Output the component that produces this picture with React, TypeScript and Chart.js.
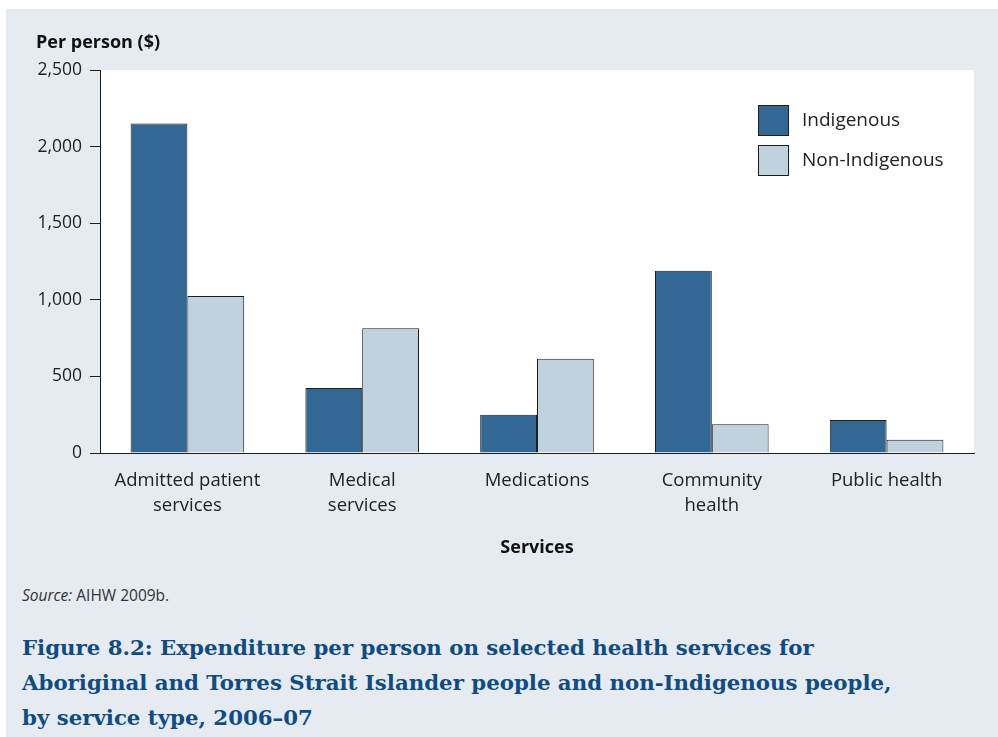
import React, { useEffect, useRef } from "react";
import { Chart, registerables } from "chart.js";

Chart.register(...registerables);

const categories: (string | string[])[] = [
  ["Admitted patient", "services"],
  ["Medical", "services"],
  "Medications",
  ["Community", "health"],
  "Public health",
];
const seriesNames = ["Indigenous", "Non-Indigenous"];
const indigenous = [2150, 425, 250, 1190, 215];
const nonIndigenous = [1025, 815, 615, 187, 87];
const yTicks = [0, 500, 1000, 1500, 2000, 2500];

const C_IND = "#336895";
const C_NON = "#c1d2df";
const C_BORDER = "#1e1e1e";
const C_BG = "#e6eaf1";
const FONT = "'Open Sans', sans-serif";

const legendPlugin = {
  id: "insideLegend",
  afterDraw(chart: any) {
    const { ctx, chartArea } = chart;
    const x0 = chartArea.right - 216;
    let y0 = chartArea.top + 35;
    ctx.save();
    chart.data.datasets.forEach((ds: any) => {
      ctx.fillStyle = ds.backgroundColor;
      ctx.fillRect(x0, y0, 30, 30);
      ctx.strokeStyle = C_BORDER;
      ctx.lineWidth = 1;
      ctx.strokeRect(x0 + 0.5, y0 + 0.5, 30, 30);
      ctx.fillStyle = "#222";
      ctx.font = "19px " + FONT;
      ctx.textBaseline = "middle";
      ctx.textAlign = "left";
      ctx.fillText(ds.label, x0 + 44, y0 + 16);
      y0 += 40;
    });
    ctx.restore();
  },
};

export default function App() {
  const ref = useRef<HTMLCanvasElement | null>(null);

  useEffect(() => {
    if (!ref.current) return;
    const chart = new Chart(ref.current, {
      type: "bar",
      data: {
        labels: categories,
        datasets: [
          {
            label: seriesNames[0],
            data: indigenous,
            backgroundColor: C_IND,
            borderColor: C_BORDER,
            borderWidth: 1,
            categoryPercentage: 0.65,
            barPercentage: 1,
          },
          {
            label: seriesNames[1],
            data: nonIndigenous,
            backgroundColor: C_NON,
            borderColor: C_BORDER,
            borderWidth: 1,
            categoryPercentage: 0.65,
            barPercentage: 1,
          },
        ],
      },
      options: {
        animation: false,
        responsive: false,
        maintainAspectRatio: false,
        layout: { padding: { left: 0, right: 24, top: 70, bottom: 0 } },
        plugins: {
          legend: { display: false },
          tooltip: { enabled: false },
        },
        scales: {
          x: {
            grid: { display: false },
            border: { display: true, color: C_BORDER, width: 1 },
            ticks: {
              color: "#222",
              font: { family: FONT, size: 18.5, lineHeight: 1.35 },
              padding: 7,
              maxRotation: 0,
              autoSkip: false,
            },
            title: {
              display: true,
              text: "Services",
              color: "#111",
              font: { family: FONT, size: 18, weight: "bold" },
              padding: { top: 0, bottom: 11 },
            },
            afterFit(scale: any) {
              scale.height = 117;
            },
          },
          y: {
            min: 0,
            max: 2500,
            afterBuildTicks(scale: any) {
              scale.ticks = yTicks.map((v) => ({ value: v }));
            },
            grid: {
              display: true,
              drawOnChartArea: false,
              drawTicks: true,
              tickLength: 10,
              color: C_BORDER,
            },
            border: { display: true, color: C_BORDER, width: 1 },
            ticks: {
              color: "#222",
              font: { family: FONT, size: 17.5 },
              padding: 8,
              callback: (v: any) => Number(v).toLocaleString("en-US"),
            },
            afterFit(scale: any) {
              scale.width = 100;
            },
          },
        },
      },
      plugins: [
        legendPlugin,
        {
          id: "whiteArea",
          beforeDraw(c: any) {
            const { ctx, chartArea } = c;
            ctx.save();
            ctx.fillStyle = "#ffffff";
            ctx.fillRect(
              chartArea.left,
              chartArea.top,
              chartArea.right - chartArea.left,
              chartArea.bottom - chartArea.top
            );
            ctx.restore();
          },
        },
      ],
    } as any);
    return () => chart.destroy();
  }, []);

  return (
    <div
      style={{
        position: "absolute",
        left: 0,
        top: 0,
        width: 998,
        height: 737,
        background: "#ffffff",
        overflow: "hidden",
      }}
    >
      <div
        style={{
          position: "absolute",
          left: 6,
          top: 9,
          right: 0,
          bottom: 0,
          background: C_BG,
        }}
      />
      <canvas
        ref={ref}
        width={998}
        height={570}
        style={{ position: "absolute", left: 0, top: 0, width: 998, height: 570 }}
      />
      <div
        style={{
          position: "absolute",
          left: 36,
          top: 29,
          fontFamily: FONT,
          fontWeight: "bold",
          fontSize: 18,
          color: "#111",
          whiteSpace: "nowrap",
        }}
      >
        Per person ($)
      </div>
      <div
        style={{
          position: "absolute",
          left: 22,
          top: 584,
          fontFamily: FONT,
          fontSize: 15.5,
          color: "#333",
          whiteSpace: "nowrap",
        }}
      >
        <i>Source:</i> AIHW 2009b.
      </div>
      <div
        style={{
          position: "absolute",
          left: 22,
          top: 630,
          fontFamily: "'DejaVu Serif', serif",
          fontWeight: "bold",
          fontSize: 21.3,
          lineHeight: "35px",
          color: "#0f4c82",
          whiteSpace: "nowrap",
        }}
      >
        Figure 8.2: Expenditure per person on selected health services for
        <br />
        Aboriginal and Torres Strait Islander people and non-Indigenous people,
        <br />
        by service type, 2006–07
      </div>
    </div>
  );
}
